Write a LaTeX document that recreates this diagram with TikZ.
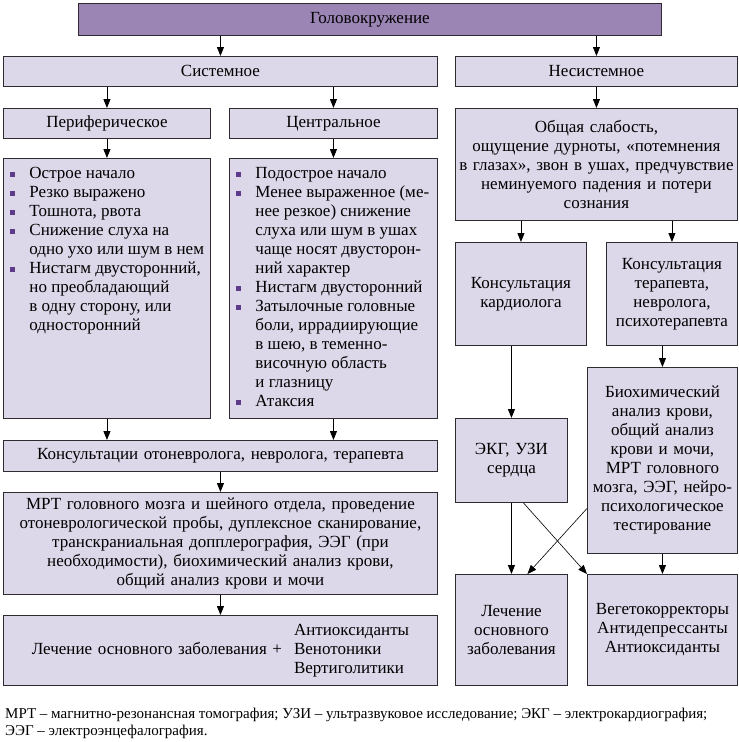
\documentclass[tikz,border=0pt]{standalone}
\usepackage{fontspec}
\setmainfont{Liberation Serif}
\usetikzlibrary{arrows.meta}

\definecolor{boxfill}{HTML}{DCD8E9}
\definecolor{topfill}{HTML}{9B85B5}
\definecolor{boxline}{HTML}{2E2A30}
\definecolor{bulletc}{HTML}{5E3A8A}

\newcommand\boxfont{\fontsize{17}{19}\selectfont}
\newcommand\notefont{\fontsize{15}{17}\selectfont}
% one bulleted item, hanging indent
\newcommand\bul{\par\hangindent=19pt\hangafter=1\noindent%
  \makebox[19pt][l]{\color{bulletc}\rule[1.5pt]{5pt}{5pt}}\strut}
\newcommand\listset{\vspace*{6.7pt}\leftskip=7pt\rightskip=0pt plus 2em\parindent=0pt}

\tikzset{
  box/.style={draw=boxline, fill=boxfill, line width=0.9pt, anchor=north west,
    font=\boxfont, align=center, inner xsep=1pt, inner ysep=2pt},
  wh/.style 2 args={minimum width=#1pt, minimum height=#2pt, text width=#1pt-3pt},
  arr/.style={-{Triangle[length=9pt,width=7pt]}, line width=0.8pt},
}

\begin{document}
\begin{tikzpicture}[x=1pt,y=-1pt]
  \useasboundingbox (0,0) rectangle (739,742);
  % top level
  \node[box, fill=topfill, wh={583}{32}] (dizzy) at (78,3) {Головокружение};
  \node[box, wh={434}{30}] (sys) at (3,56) {Системное};
  \node[box, wh={282}{30}] (nonsys) at (455,56) {Несистемное};
  % systemic branch
  \node[box, wh={207}{30}] (periph) at (3,108) {Периферическое};
  \node[box, wh={208}{30}] (central) at (229,108) {Центральное};
  \node[box, inner sep=0pt] (perlist) at (3,158) {\parbox[c][260pt][t]{207pt}{\listset
    \bul Острое начало
    \bul Резко выражено
    \bul Тошнота, рвота
    \bul Снижение слуха на\\одно ухо или шум в нем
    \bul Нистагм двусторонний,\\но преобладающий\\в одну сторону, или\\односторонний\par}};
  \node[box, inner sep=0pt] (cenlist) at (229,158) {\parbox[c][260pt][t]{208pt}{\listset
    \bul Подострое начало
    \bul Менее выраженное (ме-\\нее резкое) снижение\\слуха или шум в ушах\\чаще носят двусторон-\\ний характер
    \bul Нистагм двусторонний
    \bul Затылочные головные\\боли, иррадиирующие\\в шею, в теменно-\\височную область\\и глазницу
    \bul Атаксия\par}};
  \node[box, wh={434}{31}] (consult) at (3,440) {Консультации отоневролога, невролога, терапевта};
  \node[box, wh={434}{102}] (mri) at (3,492) {МРТ головного мозга и шейного отдела, проведение\\
    отоневрологической пробы, дуплексное сканирование,\\транскраниальная допплерография, ЭЭГ (при\\
    необходимости), биохимический анализ крови,\\общий анализ крови и мочи};
  \node[box, wh={434}{70}] (treat) at (3,615) {Лечение основного заболевания +\hspace{12pt}%
    \begin{tabular}{@{}l@{}}Антиоксиданты\\Венотоники\\Вертиголитики\end{tabular}};
  % non-systemic branch
  \node[box, wh={282}{112}] (weak) at (455,108) {Общая слабость,\\ощущение дурноты, «потемнения\\
    в глазах», звон в ушах, предчувствие\\неминуемого падения и потери\\сознания};
  \node[box, wh={131}{103}] (cardio) at (455,242) {Консультация\\кардиолога};
  \node[box, wh={131}{103}] (thera) at (606,242) {Консультация\\терапевта,\\невролога,\\психотерапевта};
  \node[box, wh={112}{84}] (ecg) at (455,418) {ЭКГ, УЗИ\\сердца};
  \node[box, wh={150}{186}] (biochem) at (587,367) {Биохимический\\анализ крови,\\общий анализ\\
    крови и мочи,\\МРТ головного\\мозга, ЭЭГ, нейро-\\психологическое\\тестирование};
  \node[box, wh={112}{111}] (cure) at (455,574) {Лечение\\основного\\заболевания};
  \node[box, wh={150}{111}] (vegeto) at (587,574) {Вегетокорректоры\\Антидепрессанты\\Антиоксиданты};
  % connectors
  \draw[arr] (dizzy.south -| sys.north) -- (sys.north);
  \draw[arr] (dizzy.south -| nonsys.north) -- (nonsys.north);
  \draw[arr] (sys.south -| periph.north) -- (periph.north);
  \draw[arr] (sys.south -| central.north) -- (central.north);
  \draw[arr] (periph.south) -- (perlist.north);
  \draw[arr] (central.south) -- (cenlist.north);
  \draw[arr] (perlist.south) -- (consult.north -| perlist.south);
  \draw[arr] (cenlist.south) -- (consult.north -| cenlist.south);
  \draw[arr] (consult.south) -- (mri.north);
  \draw[arr] (mri.south) -- (treat.north);
  \draw[arr] (nonsys.south) -- (weak.north);
  \draw[arr] (weak.south -| cardio.north) -- (cardio.north);
  \draw[arr] (weak.south -| thera.north) -- (thera.north);
  \draw[arr] (cardio.south -| ecg.north) -- (ecg.north);
  \draw[arr] (thera.south -| biochem.north) -- (biochem.north);
  \draw[arr] (ecg.south) -- (cure.north);
  \draw[arr] (biochem.south -| vegeto.north) -- (vegeto.north);
  \draw[arr, line width=0.6pt] ([xshift=12pt]ecg.south) -- (vegeto.north west);
  \draw[arr, line width=0.6pt] ([yshift=-48pt]biochem.west) -- ([xshift=16pt]cure.north);
  % footnote
  \node[anchor=north west, font=\notefont, align=left, inner sep=0pt] (note) at (5,708)
    {МРТ – магнитно-резонансная томография; УЗИ – ультразвуковое исследование; ЭКГ – электрокардиография;\\
    ЭЭГ – электроэнцефалография.};
\end{tikzpicture}
\end{document}
